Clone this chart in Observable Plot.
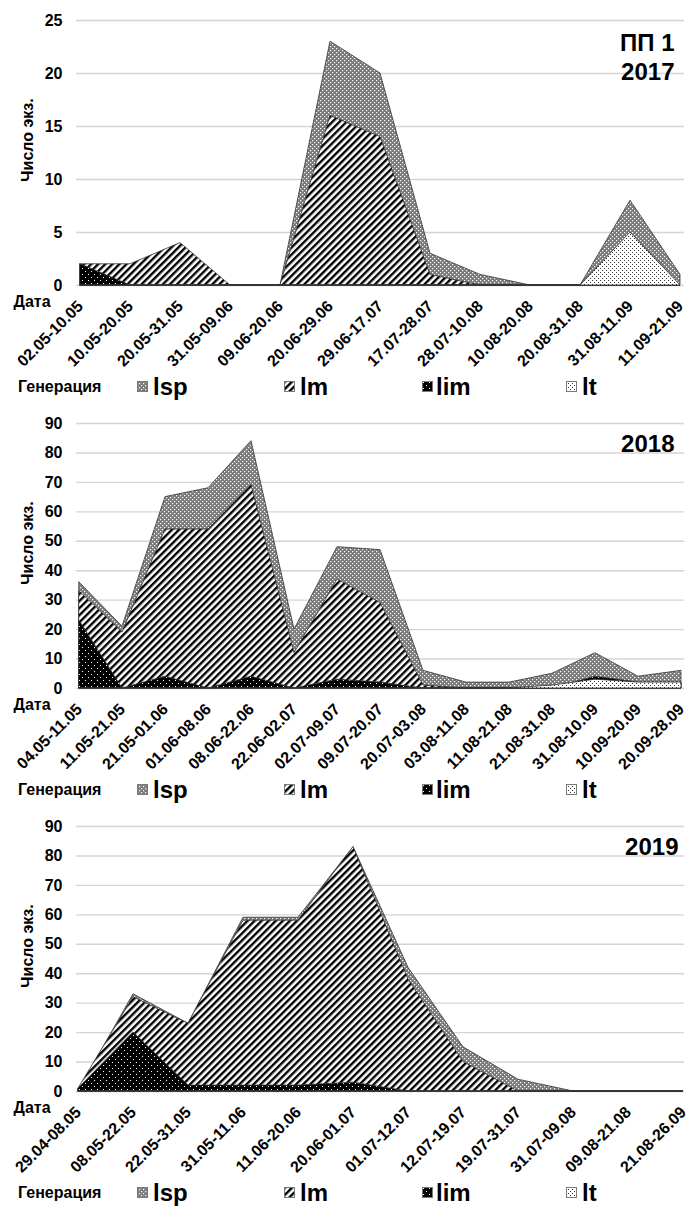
<!DOCTYPE html>
<html>
<head>
<meta charset="utf-8">
<script src="https://cdn.jsdelivr.net/npm/d3@7"></script>
<script src="https://cdn.jsdelivr.net/npm/@observablehq/plot@0.6"></script>
<style>
  html, body { margin: 0; padding: 0; background: #fff; }
  #root { position: relative; width: 688px; height: 1213px; overflow: hidden; font-family: "Liberation Sans", Arial, sans-serif; color: #000; }
  .panel { position: absolute; left: 0; width: 688px; }
  .legend { position: absolute; left: 0; width: 688px; height: 30px; }
  .legend span { position: absolute; font-weight: bold; line-height: 30px; top: 0; }
  .legend .sw { position: absolute; top: 9px; width: 11px; height: 11px; }
</style>
</head>
<body>
<svg width="0" height="0" style="position:absolute">
  <defs>
    <pattern id="pat-lsp" patternUnits="userSpaceOnUse" width="4" height="4">
      <rect width="4" height="4" fill="#7a7a7a"/>
      <rect x="0" y="0" width="1.2" height="1.2" fill="#fff"/>
      <rect x="2" y="2" width="1.2" height="1.2" fill="#fff"/>
    </pattern>
    <pattern id="pat-lm" patternUnits="userSpaceOnUse" width="5" height="5" patternTransform="rotate(45)">
      <rect width="5" height="5" fill="#fff"/>
      <rect x="0" y="0" width="2.4" height="5" fill="#000"/>
    </pattern>
    <pattern id="pat-lim" patternUnits="userSpaceOnUse" width="6" height="6">
      <rect width="6" height="6" fill="#000"/>
      <rect x="1" y="1" width="1" height="1" fill="#fff"/>
      <rect x="4" y="4" width="1" height="1" fill="#fff"/>
    </pattern>
    <pattern id="pat-lt" patternUnits="userSpaceOnUse" width="4" height="4">
      <rect width="4" height="4" fill="#fff"/>
      <rect x="0" y="0" width="1" height="1" fill="#333"/>
      <rect x="2" y="2" width="1" height="1" fill="#333"/>
    </pattern>
  </defs>
</svg>
<div id="root"></div>
<script>
// ---- data ----
const seriesNames = ["lsp", "lm", "lim", "lt"];

const cats2017 = ["02.05-10.05","10.05-20.05","20.05-31.05","31.05-09.06","09.06-20.06","20.06-29.06","29.06-17.07","17.07-28.07","28.07-10.08","10.08-20.08","20.08-31.08","31.08-11.09","11.09-21.09"];
const lsp2017 = [0,0,0,0,0,23,20,3,1,0,0,8,1];
const lm2017  = [2,2,4,0,0,16,14,1,0,0,0,0,0];
const lim2017 = [2,0,0,0,0,0,0,0,0,0,0,0,0];
const lt2017  = [0,0,0,0,0,0,0,0,0,0,0,5,0];

const cats2018 = ["04.05-11.05","11.05-21.05","21.05-01.06","01.06-08.06","08.06-22.06","22.06-02.07","02.07-09.07","09.07-20.07","20.07-03.08","03.08-11.08","11.08-21.08","21.08-31.08","31.08-10.09","10.09-20.09","20.09-28.09"];
const lsp2018 = [36,21,65,68,84,20,48,47,6,2,2,5,12,4,6];
const lm2018  = [33,19,54,54,69,12,37,29,1,0,0,0,0,0,0];
const lim2018 = [23,0,4,0,4,0,3,2,0,0,0,0,4,2,2];
const lt2018  = [0,0,0,0,0,0,0,0,0,0,0,1,3,2,2];

const cats2019 = ["29.04-08.05","08.05-22.05","22.05-31.05","31.05-11.06","11.06-20.06","20.06-01.07","01.07-12.07","12.07-19.07","19.07-31.07","31.07-09.08","09.08-21.08","21.08-26.09"];
const lsp2019 = [0,33,23,59,59,83,42,15,4,0,0,0];
const lm2019  = [1,32,23,58,58,83,38,10,0,0,0,0];
const lim2019 = [1,20,2,2,2,3,0,0,0,0,0,0];
const lt2019  = [0,0,0,0,0,0,0,0,0,0,0,0];

const ticks25 = [0,5,10,15,20,25];
const ticks90 = [0,10,20,30,40,50,60,70,80,90];

const yLabel = "Число экз.";
const xLabel = "Дата";
const legendTitle = "Генерация";

// ---- drawing ----
const root = document.getElementById("root");
const FONT = "'Liberation Sans', Arial, sans-serif";

function makePanel(top, cats, vals, yMax, yTicks, titles) {
  const panel = document.createElement("div");
  panel.className = "panel";
  panel.style.top = top + "px";

  const areas = seriesNames.map((name, k) =>
    Plot.areaY(cats.map((c, i) => ({c, v: vals[k][i]})), {
      x: "c", y: "v",
      fill: `url(#pat-${name})`,
      stroke: "#333", strokeWidth: 0.8
    })
  );

  const titleMarks = titles.map(t =>
    Plot.text([t.text], {
      text: d => d, frameAnchor: "top-right", textAnchor: "end", lineAnchor: "middle",
      dx: t.dx, dy: t.dy, fontSize: 24, fontWeight: "bold", fill: "#000"
    })
  );

  const svg = Plot.plot({
    width: 688, height: 370,
    marginTop: 20, marginBottom: 85, marginLeft: 76, marginRight: 4,
    style: {fontFamily: FONT, fontWeight: "bold", color: "#000", background: "#fff", overflow: "visible"},
    x: {type: "point", domain: cats, padding: 0},
    y: {domain: [0, yMax]},
    marks: [
      Plot.gridY(yTicks, {stroke: "#d4d4d4", strokeOpacity: 1, strokeWidth: 1.4}),
      ...areas,
      Plot.axisY(yTicks, {tickSize: 0, tickPadding: 14, fontSize: 16, fontWeight: "bold", label: null}),
      Plot.axisX({tickSize: 0, tickRotate: -45, tickPadding: 18, fontSize: 16, fontWeight: "bold", label: null}),
      Plot.text([xLabel], {text: d => d, frameAnchor: "bottom-left", textAnchor: "start", lineAnchor: "middle", dx: -63, dy: 16, fontSize: 16, fontWeight: "bold"}),
      Plot.text([yLabel], {text: d => d, frameAnchor: "left", rotate: -90, textAnchor: "middle", lineAnchor: "middle", dx: -49, dy: -13, fontSize: 16, fontWeight: "bold"}),
      ...titleMarks
    ]
  });
  svg.style.display = "block";
  panel.appendChild(svg);

  // legend
  const leg = document.createElement("div");
  leg.className = "legend";
  leg.style.top = "372px";
  const title = document.createElement("span");
  title.textContent = legendTitle;
  title.style.left = "18px";
  title.style.fontSize = "16px";
  leg.appendChild(title);
  const swX = [137, 284, 422, 566];
  const txX = [153, 300, 436, 582];
  seriesNames.forEach((name, k) => {
    const sw = document.createElementNS("http://www.w3.org/2000/svg", "svg");
    sw.setAttribute("class", "sw");
    sw.setAttribute("width", 11);
    sw.setAttribute("height", 11);
    sw.style.left = swX[k] + "px";
    sw.innerHTML = `<rect x="0.5" y="0.5" width="10" height="10" fill="url(#pat-${name})" stroke="#7a7a7a" stroke-width="1"/>`;
    leg.appendChild(sw);
    const tx = document.createElement("span");
    tx.textContent = name;
    tx.style.left = txX[k] + "px";
    tx.style.fontSize = "24px";
    leg.appendChild(tx);
  });
  panel.appendChild(leg);
  root.appendChild(panel);
}

makePanel(0, cats2017, [lsp2017, lm2017, lim2017, lt2017], 25, ticks25,
  [{text: "ПП 1", dx: -10, dy: 23}, {text: "2017", dx: -10, dy: 52}]);
makePanel(403, cats2018, [lsp2018, lm2018, lim2018, lt2018], 90, ticks90,
  [{text: "2018", dx: -10, dy: 21}]);
makePanel(806, cats2019, [lsp2019, lm2019, lim2019, lt2019], 90, ticks90,
  [{text: "2019", dx: -6, dy: 21}]);
</script>
</body>
</html>
